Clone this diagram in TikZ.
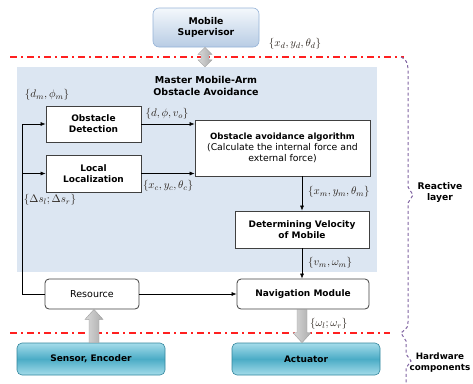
\documentclass[tikz,border=0pt]{standalone}
\usepackage{fontspec}
\setmainfont{DejaVu Sans}
\usetikzlibrary{calc,arrows.meta}
\definecolor{regionblue}{RGB}{220,230,242}
\definecolor{boxline}{RGB}{64,64,64}
\definecolor{supline}{RGB}{149,179,215}
\definecolor{suptop}{RGB}{244,248,252}
\definecolor{supbot}{RGB}{184,204,228}
\definecolor{hwtop}{RGB}{165,220,234}
\definecolor{hwmid}{RGB}{75,172,198}
\definecolor{hwline}{RGB}{49,133,156}
\definecolor{dashred}{RGB}{255,32,32}
\definecolor{bracepurple}{RGB}{128,100,162}
\definecolor{mathlbl}{RGB}{40,32,25}
\begin{document}
\begin{tikzpicture}[x=1pt,y=-1pt,
  base/.style={font=\fontsize{9}{11}\selectfont\bfseries, align=center, inner sep=1pt},
  blk/.style={base, draw=boxline, fill=white, line width=0.8pt},
  rblk/.style={blk, rounded corners=4pt},
  hw/.style={base, draw=hwline, line width=0.6pt, rounded corners=5pt, top color=hwtop, bottom color=hwtop, middle color=hwmid, minimum width=148, minimum height=32},
  lbl/.style={font=\fontsize{11}{12}\selectfont, text=mathlbl, inner sep=0pt},
  conn/.style={-{Latex[length=5pt,width=4pt]}, line width=0.6pt, draw=black},
  fat/.style={left color=gray!30, right color=gray!65, draw=gray!75, line width=0.4pt},
  redline/.style={color=dashred, line width=1.3pt, dash pattern=on 7pt off 4pt on 2pt off 4pt},
  bracel/.style={color=bracepurple, line width=1pt, dash pattern=on 3pt off 2.5pt},
  side/.style={base, font=\fontsize{9.2}{11}\selectfont\bfseries}
]
\useasboundingbox (0,0) rectangle (473,383);
% reactive region
\node[fill=regionblue, minimum width=360, minimum height=205, inner sep=0pt] (region) at (197,169.5) {};
\node[base, font=\fontsize{9.5}{11.5}\selectfont\bfseries] (title) at (206,86) {Master Mobile-Arm\\Obstacle Avoidance};

% supervisor
\node[base, draw=supline, line width=0.6pt, rounded corners=6pt, top color=suptop, bottom color=supbot, minimum width=106, minimum height=39, font=\fontsize{9.3}{11}\selectfont\bfseries] (sup) at (206,27.5) {Mobile\\Supervisor};

% blocks
\node[blk, minimum width=95, minimum height=36] (od) at (93.5,124) {Obstacle\\Detection};
\node[blk, minimum width=95, minimum height=37] (ll) at (93.5,173.5) {Local\\Localization};
\node[blk, minimum width=175, minimum height=56, font=\fontsize{9.3}{11}\selectfont] (oaa) at (282.5,148) {{\fontsize{8.6}{11}\selectfont\bfseries Obstacle avoidance algorithm}\\(Calculate the internal force and\\external force)};
\node[blk, minimum width=134, minimum height=37] (dvm) at (302,229.5) {Determining Velocity\\of Mobile};
\node[rblk, minimum width=94, minimum height=30, font=\fontsize{9.5}{11}\selectfont] (res) at (92,294) {Resource};
\node[rblk, minimum width=132, minimum height=30] (nm) at (303,294) {Navigation Module};
\node[hw] (sen) at (91,359) {Sensor, Encoder};
\node[hw] (act) at (306,359) {Actuator};

% red dash-dot lines
\coordinate (r1a) at (10,57);
\coordinate (r1b) at (404,57);
\coordinate (r2a) at (10,333);
\coordinate (r2b) at (390,333);
\draw[redline] (r1a) -- (r1b);
\draw[redline] (r2a) -- (r2b);

% connectors
\draw[conn] (od.east) -- (od.east -| oaa.west);
\draw[conn] (ll.east) -- (ll.east -| oaa.west);
\draw[conn] (dvm.north |- oaa.south) -- (dvm.north);
\draw[conn] (dvm.south) -- (dvm.south |- nm.north);
\coordinate (fb) at (22,124);
\draw[conn] (res.west) -| (fb) -- (od.west);
\draw[conn] (fb |- ll.west) -- (ll.west);
\draw[conn] (res.east) -- (nm.west);

% fat arrows
\shade[fat] let \p1=(sen.north), \p2=(res.south) in
  (\x2-3pt,\y1) -- (\x2-3pt,\y2-10pt) -- (\x2-7pt,\y2-10pt) -- (\x2+2pt,\y2) -- (\x2+11pt,\y2-10pt) -- (\x2+7pt,\y2-10pt) -- (\x2+7pt,\y1) -- cycle;
\shade[fat] let \p1=(nm.south), \p2=(act.north) in
  (\x1-6pt,\y1) -- (\x1-6pt,\y2+10pt) -- (\x1-10pt,\y2+10pt) -- (\x1-1pt,\y2) -- (\x1+8pt,\y2+10pt) -- (\x1+4pt,\y2+10pt) -- (\x1+4pt,\y1) -- cycle;
\shade[fat] let \p1=(sup.south), \p2=(region.north) in
  (\x1-1pt,\y1) -- (\x1+6pt,\y1-7pt) -- (\x1+3pt,\y1-7pt) -- (\x1+3pt,\y2+7pt) -- (\x1+6pt,\y2+7pt) -- (\x1-1pt,\y2) -- (\x1-8pt,\y2+7pt) -- (\x1-5pt,\y2+7pt) -- (\x1-5pt,\y1-7pt) -- (\x1-8pt,\y1-7pt) -- cycle;

% math labels
\node[lbl] (lxd) at (295,44) {$\{x_d,y_d,\theta_d\}$};
\node[lbl] (ldm) at (47,95) {$\{d_m,\phi_m\}$};
\node[lbl] (ld) at (167,114) {$\{d,\phi,v_o\}$};
\node[lbl] (lxc) at (168,186) {$\{x_c,y_c,\theta_c\}$};
\node[lbl] (lds) at (50,200) {$\{\Delta s_l;\Delta s_r\}$};
\node[lbl, anchor=west] (lxm) at (308,192) {$\{x_m,y_m,\theta_m\}$};
\node[lbl, anchor=west] (lvm) at (308,263) {$\{v_m,\omega_m\}$};
\node[lbl, anchor=west] (lw) at (310,324) {$\{\omega_l;\omega_r\}$};

% braces
\draw[bracel] (401,57) .. controls (406,59) and (408,63) .. (408,70) -- (408,187) -- (413,195) -- (408,203) -- (408,322) .. controls (408,327) .. (401,333) -- (406,341) -- (406,354) -- (411,361) -- (406,368) -- (406,383);
\node[side] (react) at (440,192) {Reactive\\layer};
\node[side, font=\fontsize{8.8}{11}\selectfont\bfseries] (hwl) at (440,363) {Hardware\\components};
\end{tikzpicture}
\end{document}
